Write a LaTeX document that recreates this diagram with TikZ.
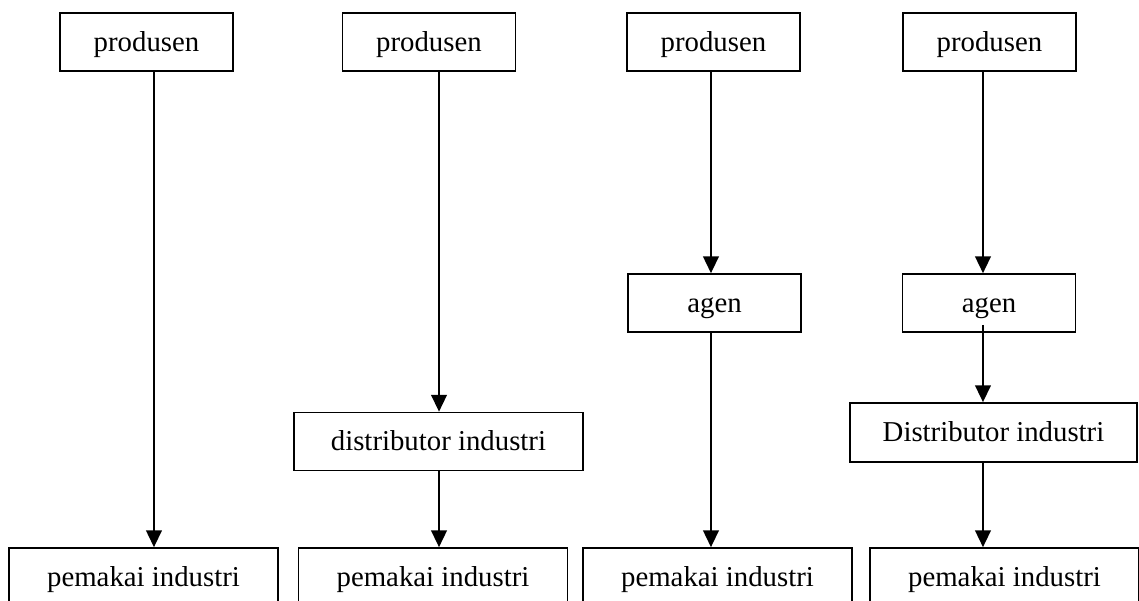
\documentclass[tikz,border=0pt]{standalone}
\usepackage{fontspec}
\setmainfont{Liberation Serif}
\usetikzlibrary{arrows.meta}

\tikzset{
	kotak/.style = {draw, line width = 0.7pt, minimum width = 2.534cm, minimum height = 0.849cm, inner sep = 0pt, text height = 9pt, text depth = 1.5pt, font = \fontsize{12}{14}\selectfont},
	lebar/.style = {kotak, minimum width = #1},
	panah/.style = {-{Triangle[width = 6.5pt, length = 7pt]}, line width = 0.85pt}
}

\begin{document}
\begin{tikzpicture}
	\useasboundingbox (0,0) rectangle (16.682,-8.802);

	\node (p1)[kotak] at(2.146,-0.615) {produsen};
	\node (p2)[kotak] at(6.283,-0.615) {produsen};
	\node (p3)[kotak] at(10.450,-0.615) {produsen};
	\node (p4)[kotak] at(14.492,-0.615) {produsen};

	\node (a3)[kotak] at(10.465,-4.438) {agen};
	\node (a4)[kotak] at(14.485,-4.438) {agen};

	\node (d2)[lebar = 4.233cm] at(6.422,-6.466) {distributor industri};
	\node (d4)[lebar = 4.203cm, minimum height = 0.864cm] at(14.551,-6.334) {Distributor industri};

	\node (b1)[lebar = 3.94cm] at(2.102,-8.451) {pemakai industri};
	\node (b2)[lebar = 3.94cm] at(6.342,-8.451) {pemakai industri};
	\node (b3)[lebar = 3.94cm] at(10.509,-8.451) {pemakai industri};
	\node (b4)[lebar = 3.94cm] at(14.712,-8.451) {pemakai industri};

	\coordinate (l1) at(2.255,0);
	\coordinate (l2) at(6.430,0);
	\coordinate (l3) at(10.413,0);
	\coordinate (l4) at(14.397,0);

	\draw [panah](l1 |- p1.south)--(l1 |- b1.north);

	\draw [panah](l2 |- p2.south)--(l2 |- d2.north);
	\draw [panah](l2 |- d2.south)--(l2 |- b2.north);

	\draw [panah](l3 |- p3.south)--(l3 |- a3.north);
	\draw [panah](l3 |- a3.south)--(l3 |- b3.north);

	\draw [panah](l4 |- p4.south)--(l4 |- a4.north);
	\draw [panah]([yshift = 3.3pt]l4 |- a4.south)--(l4 |- d4.north);
	\draw [panah](l4 |- d4.south)--(l4 |- b4.north);
\end{tikzpicture}
\end{document}
